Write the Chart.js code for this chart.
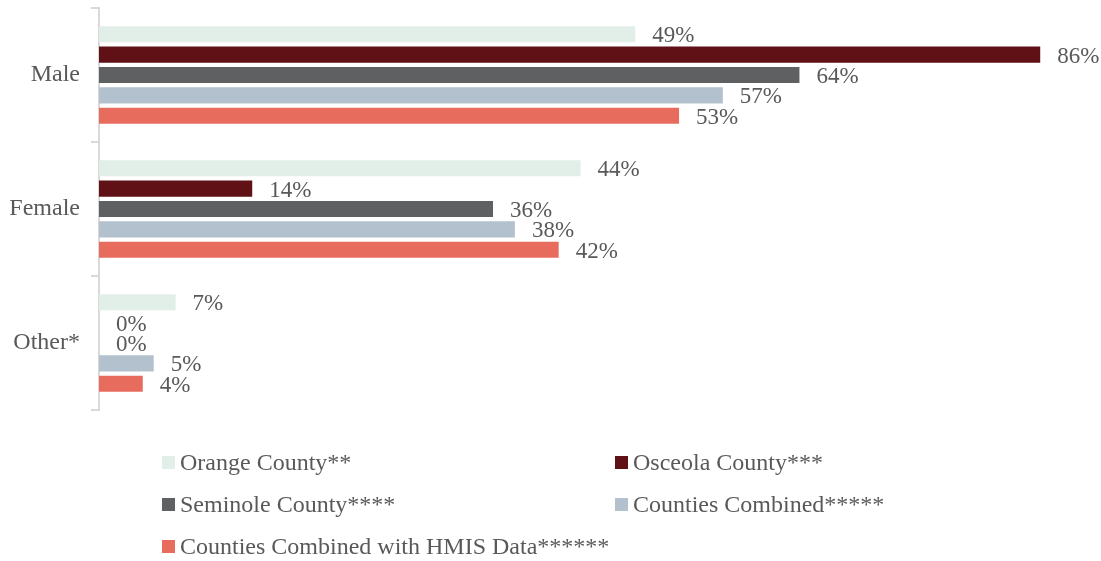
<!DOCTYPE html>
<html>
<head>
<meta charset="utf-8">
<script src="https://cdn.jsdelivr.net/npm/chart.js@4"></script>
<style>
  html, body { margin: 0; padding: 0; background: #fff; }
  #wrap { width: 1101px; height: 561px; position: relative; }
</style>
</head>
<body>
<div id="wrap"><canvas id="barChart" width="1101" height="561"></canvas></div>
<script>
const categories = ['Male', 'Female', 'Other*'];
const seriesNames = [
    'Orange County**',
    'Osceola County***',
    'Seminole County****',
    'Counties Combined*****',
    'Counties Combined with HMIS Data******'
];
const orangeCounty = [49, 44, 7];
const osceolaCounty = [86, 14, 0];
const seminoleCounty = [64, 36, 0];
const countiesCombined = [57, 38, 5];
const countiesHmis = [53, 42, 4];

const seriesColors = ['#E2EEE8', '#5F1115', '#5F6062', '#B3C1CE', '#E76C5E'];
const textColor = '#595959';
const fontFamily = "'Liberation Serif', 'Times New Roman', serif";

// value labels right of each bar
const barLabels = {
    id: 'barLabels',
    afterDatasetsDraw(chart) {
        const ctx = chart.ctx;
        ctx.save();
        ctx.font = '23px ' + fontFamily;
        ctx.fillStyle = textColor;
        ctx.textBaseline = 'middle';
        ctx.textAlign = 'left';
        chart.data.datasets.forEach((ds, i) => {
            chart.getDatasetMeta(i).data.forEach((bar, j) => {
                ctx.fillText(ds.data[j] + '%', bar.x + 17, bar.y + 2);
            });
        });
        ctx.restore();
    }
};

// two-column legend under the plot
const gridLegend = {
    id: 'gridLegend',
    afterDraw(chart) {
        const ctx = chart.ctx;
        const cols = [162, 615];
        const rows = [463, 505, 547];
        ctx.save();
        ctx.font = '24px ' + fontFamily;
        ctx.textBaseline = 'middle';
        ctx.textAlign = 'left';
        chart.data.datasets.forEach((ds, i) => {
            const x = cols[i % 2];
            const y = rows[Math.floor(i / 2)];
            ctx.fillStyle = ds.backgroundColor;
            ctx.fillRect(x, y - 7, 13, 13);
            ctx.fillStyle = textColor;
            ctx.fillText(ds.label, x + 18, y + 1);
        });
        ctx.restore();
    }
};

const allSeries = [orangeCounty, osceolaCounty, seminoleCounty, countiesCombined, countiesHmis];

new Chart(document.getElementById('barChart').getContext('2d'), {
    type: 'bar',
    data: {
        labels: categories,
        datasets: allSeries.map((values, i) => ({
            label: seriesNames[i],
            data: values,
            backgroundColor: seriesColors[i],
            categoryPercentage: 0.76,
            barPercentage: 0.79
        }))
    },
    options: {
        indexAxis: 'y',
        responsive: false,
        animation: false,
        layout: {
            padding: { top: 8, right: 17, bottom: 151, left: 0 }
        },
        plugins: {
            legend: { display: false },
            tooltip: { enabled: false }
        },
        scales: {
            x: {
                display: false,
                min: 0,
                max: 90
            },
            y: {
                afterFit: scale => {
                    scale.width = 99;
                    scale.paddingTop = 0;
                    scale.paddingBottom = 0;
                },
                border: { color: '#D9D9D9', width: 2 },
                grid: {
                    offset: true,
                    drawOnChartArea: false,
                    tickLength: 8,
                    color: '#D9D9D9',
                    lineWidth: 2
                },
                ticks: {
                    color: textColor,
                    padding: 11,
                    font: { family: fontFamily, size: 24 }
                }
            }
        }
    },
    plugins: [barLabels, gridLegend]
});
</script>
</body>
</html>
